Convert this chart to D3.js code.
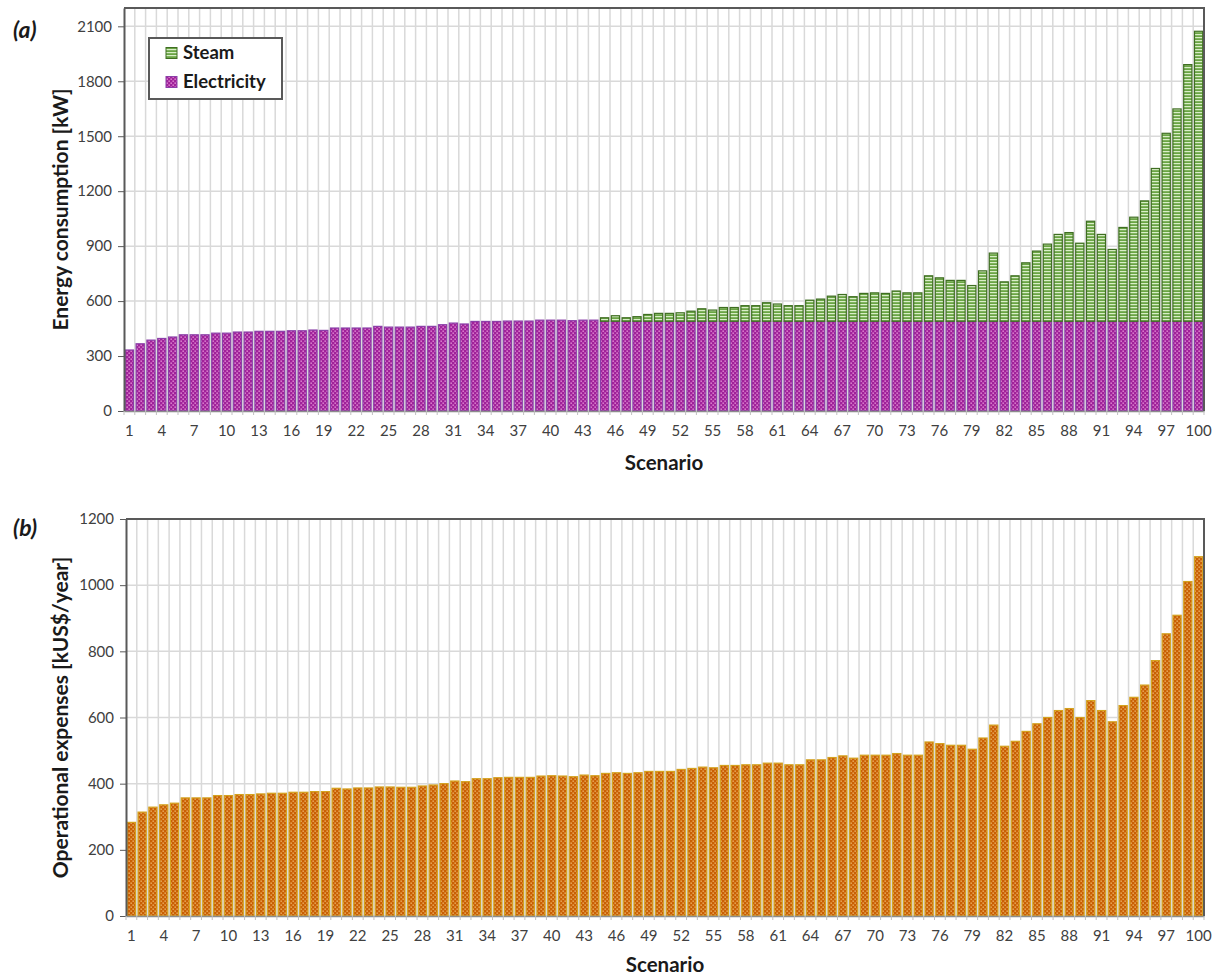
<!DOCTYPE html>
<html>
<head>
<meta charset="utf-8">
<script src="https://cdn.jsdelivr.net/npm/d3@7"></script>
<style>
  body { margin: 0; background: #fff; }
  svg { display: block; font-family: Lato, "Open Sans", sans-serif; }
</style>
</head>
<body>
<svg id="chart" width="1214" height="979"></svg>
<script>
// Scenario ids 1..100
const scenarios = d3.range(1, 101);

// (a) Electricity consumption per scenario [kW]
const electricity = [
  333, 367, 387, 396, 404, 416, 416, 416, 425, 425,
  431, 431, 435, 435, 435, 438, 438, 442, 440, 453,
  453, 453, 453, 462, 458, 458, 458, 462, 462, 471,
  480, 475, 489, 489, 489, 491, 491, 491, 496, 496,
  496, 493, 496, 496, 490, 490, 490, 490, 490, 490,
  490, 490, 490, 490, 490, 490, 490, 490, 490, 490,
  490, 490, 490, 490, 490, 490, 490, 490, 490, 490,
  490, 490, 490, 490, 490, 490, 490, 490, 490, 490,
  490, 490, 490, 490, 490, 490, 490, 490, 490, 490,
  490, 490, 490, 490, 490, 490, 490, 490, 490, 490
];

// (a) Steam consumption per scenario [kW]
const steam = [
  0, 0, 0, 0, 0, 0, 0, 0, 0, 0,
  0, 0, 0, 0, 0, 0, 0, 0, 0, 0,
  0, 0, 0, 0, 0, 0, 0, 0, 0, 0,
  0, 0, 0, 0, 0, 0, 0, 0, 0, 0,
  0, 0, 0, 0, 19, 30, 19, 25, 37, 43,
  43, 46, 55, 68, 61, 75, 75, 85, 85, 101,
  94, 85, 85, 115, 121, 137, 146, 134, 152, 155,
  152, 165, 155, 155, 248, 237, 223, 223, 195, 275,
  372, 215, 248, 319, 383, 421, 474, 484, 426, 546,
  474, 392, 512, 568, 657, 834, 1026, 1159, 1401, 1583
];

// (b) Operational expenses per scenario [kUS$/year]
const opex = [
  283, 314, 329, 336, 341, 357, 357, 357, 364, 364,
  367, 367, 369, 371, 371, 374, 374, 376, 376, 386,
  384, 387, 387, 390, 390, 389, 389, 393, 396, 400,
  408, 406, 415, 415, 418, 419, 419, 419, 423, 424,
  423, 421, 426, 424, 431, 433, 431, 433, 437, 437,
  437, 443, 446, 450, 448, 455, 455, 457, 457, 462,
  462, 457, 457, 472, 472, 479, 484, 477, 486, 486,
  486, 491, 486, 486, 526, 521, 516, 516, 504, 538,
  577, 513, 528, 558, 581, 600, 621, 627, 600, 651,
  621, 587, 636, 661, 698, 772, 853, 909, 1011, 1086
];

const yTicksA = [0, 300, 600, 900, 1200, 1500, 1800, 2100];
const yTicksB = [0, 200, 400, 600, 800, 1000, 1200];
const xTickLabels = scenarios.filter((d, i) => i % 3 === 0);

const svg = d3.select("#chart");
const defs = svg.append("defs");

// Fill patterns
function dotPattern(id, base, dot, size, r) {
  const p = defs.append("pattern").attr("id", id)
    .attr("patternUnits", "userSpaceOnUse").attr("width", size).attr("height", size);
  p.append("rect").attr("width", size).attr("height", size).attr("fill", base);
  p.append("rect").attr("x", 0.5).attr("y", 0.5).attr("width", r).attr("height", r).attr("fill", dot);
  p.append("rect").attr("x", size / 2 + 0.5).attr("y", size / 2 + 0.5).attr("width", r).attr("height", r).attr("fill", dot);
}
dotPattern("pElec", "#A0229A", "#F2A6E2", 4, 1.3);
dotPattern("pOpex", "#C96004", "#F4C27A", 4, 1.3);
{
  const p = defs.append("pattern").attr("id", "pSteam")
    .attr("patternUnits", "userSpaceOnUse").attr("width", 4).attr("height", 3);
  p.append("rect").attr("width", 4).attr("height", 3).attr("fill", "#6AA444");
  p.append("rect").attr("y", 1).attr("width", 4).attr("height", 1.2).attr("fill", "#D9EEC8");
}

const gridColor = "#D9D9D9";
const frameColor = "#595959";
const tickText = "#404040";
const tickFont = 15;

function drawPanel(opts) {
  const { left, right, top, bottom, yMax, yTicks } = opts;
  const g = svg.append("g");
  const x = d3.scaleBand().domain(scenarios).range([left, right])
    .paddingInner(0.24).paddingOuter(0.12);
  const y = d3.scaleLinear().domain([0, yMax]).range([bottom, top]);
  const step = x.step();

  // horizontal grid
  g.append("g").selectAll("line").data(yTicks.filter(t => t > 0)).join("line")
    .attr("x1", left).attr("x2", right)
    .attr("y1", d => y(d)).attr("y2", d => y(d))
    .attr("stroke", gridColor).attr("stroke-width", 1.5);
  // vertical grid between categories
  g.append("g").selectAll("line").data(d3.range(1, scenarios.length)).join("line")
    .attr("x1", i => left + i * step).attr("x2", i => left + i * step)
    .attr("y1", top).attr("y2", bottom)
    .attr("stroke", gridColor).attr("stroke-width", 1.5);

  opts.drawBars(g, x, y);

  // y axis
  const yAxis = g.append("g").attr("transform", `translate(${left},0)`)
    .call(d3.axisLeft(y).tickValues(yTicks).tickFormat(d3.format("d"))
      .tickSize(6).tickPadding(6).tickSizeOuter(0));
  yAxis.select(".domain").attr("stroke", frameColor).attr("stroke-width", 2);
  yAxis.selectAll(".tick line").attr("stroke", frameColor);
  yAxis.selectAll(".tick text").attr("fill", tickText).attr("font-size", tickFont)
    .attr("font-family", "Lato, 'Open Sans', sans-serif");

  // x axis
  const xAxis = g.append("g").attr("transform", `translate(0,${bottom})`)
    .call(d3.axisBottom(x).tickValues(xTickLabels).tickSize(0).tickPadding(14).tickSizeOuter(0));
  xAxis.select(".domain").attr("stroke", "#8C8C8C").attr("stroke-width", 1.5);
  xAxis.selectAll(".tick text").attr("fill", tickText).attr("font-size", tickFont)
    .attr("font-family", "Lato, 'Open Sans', sans-serif");
  // small tick marks at category boundaries
  g.append("g").selectAll("line").data(d3.range(0, scenarios.length + 1)).join("line")
    .attr("x1", i => left + i * step).attr("x2", i => left + i * step)
    .attr("y1", bottom).attr("y2", bottom + 4)
    .attr("stroke", "#BFBFBF").attr("stroke-width", 1);

  // top and right frame
  g.append("path")
    .attr("d", `M${left},${top}H${right}V${bottom}`)
    .attr("fill", "none").attr("stroke", frameColor).attr("stroke-width", 2);

  // titles
  g.append("text").attr("x", (left + right) / 2).attr("y", opts.xTitleY)
    .attr("text-anchor", "middle").attr("font-weight", 700).attr("font-size", 20.5)
    .attr("fill", "#1a1a1a").text("Scenario");
  g.append("text")
    .attr("transform", `translate(63,${(top + bottom) / 2}) rotate(-90)`)
    .attr("text-anchor", "middle").attr("dominant-baseline", "middle")
    .attr("font-weight", 700).attr("font-size", 21).attr("fill", "#1a1a1a")
    .text(opts.yTitle);
  g.append("text").attr("x", 13).attr("y", opts.tagY)
    .attr("font-weight", 700).attr("font-style", "italic").attr("font-size", 23)
    .attr("fill", "#1a1a1a").text(opts.tag);
  return g;
}

// (a) stacked energy consumption
drawPanel({
  left: 124, right: 1204, top: 8, bottom: 411, yMax: 2200, yTicks: yTicksA,
  yTitle: "Energy consumption [kW]", xTitleY: 470, tag: "(a)", tagY: 38,
  drawBars(g, x, y) {
    const rows = scenarios.map((s, i) => ({ s, electricity: electricity[i], steam: steam[i] }));
    const stack = d3.stack().keys(["electricity", "steam"])(rows);
    const fills = { electricity: "url(#pElec)", steam: "url(#pSteam)" };
    const strokes = { electricity: "#8A3FA8", steam: "#3F6E22" };
    g.append("g").selectAll("g").data(stack).join("g")
      .attr("fill", d => fills[d.key]).attr("stroke", d => strokes[d.key])
      .attr("stroke-width", 1.2)
      .selectAll("rect").data(d => d.filter(p => p[1] - p[0] > 0)).join("rect")
      .attr("x", d => x(d.data.s)).attr("width", x.bandwidth())
      .attr("y", d => y(d[1])).attr("height", d => y(d[0]) - y(d[1]));
  }
});

// (b) operational expenses
drawPanel({
  left: 126, right: 1204, top: 519, bottom: 916, yMax: 1200, yTicks: yTicksB,
  yTitle: "Operational expenses [kUS$/year]", xTitleY: 972, tag: "(b)", tagY: 536,
  drawBars(g, x, y) {
    g.append("g").selectAll("rect").data(scenarios).join("rect")
      .attr("x", s => x(s)).attr("width", x.bandwidth())
      .attr("y", (s, i) => y(opex[i])).attr("height", (s, i) => y(0) - y(opex[i]))
      .attr("fill", "url(#pOpex)").attr("stroke", "#D4A21E").attr("stroke-width", 1.2);
  }
});

// legend for (a)
const legend = svg.append("g");
legend.append("rect").attr("x", 149).attr("y", 38).attr("width", 133).attr("height", 61)
  .attr("fill", "#fff").attr("stroke", frameColor).attr("stroke-width", 2);
const legendItems = [
  { label: "Steam", fill: "url(#pSteam)", stroke: "#3F6E22", y: 53 },
  { label: "Electricity", fill: "url(#pElec)", stroke: "#8A3FA8", y: 82 }
];
legendItems.forEach(it => {
  legend.append("rect").attr("x", 166).attr("y", it.y - 5.5).attr("width", 11).attr("height", 11)
    .attr("fill", it.fill).attr("stroke", it.stroke).attr("stroke-width", 1);
  legend.append("text").attr("x", 183).attr("y", it.y + 1).attr("dominant-baseline", "middle")
    .attr("font-weight", 700).attr("font-size", 18.5).attr("fill", "#1a1a1a").text(it.label);
});
</script>
</body>
</html>
